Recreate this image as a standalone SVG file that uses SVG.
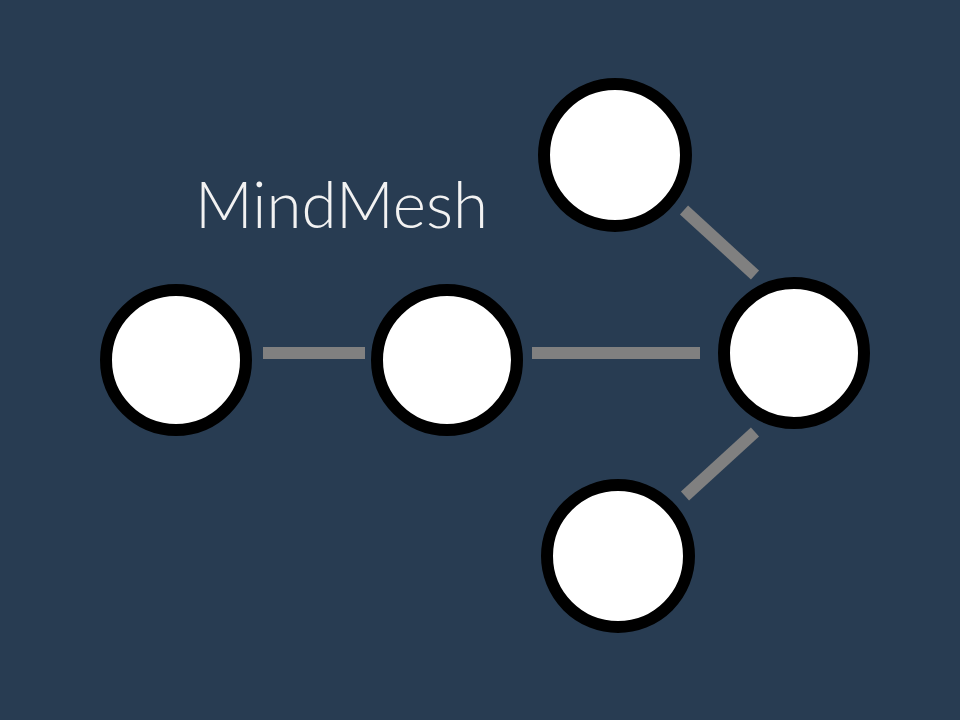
<svg xmlns="http://www.w3.org/2000/svg" width="960" height="720" viewBox="0 0 960 720">
<style>
.node{fill:#ffffff;stroke:#000000;stroke-width:12}
.edge{stroke:#808080;stroke-width:12;fill:none}
.title{font-family:Lato,"Open Sans","Liberation Sans",sans-serif;font-weight:300;font-size:66px;fill:#f2f2f2}
</style>
<rect width="960" height="720" fill="#283c52"/>
<g id="connectors">
<line class="edge" x1="263" y1="353" x2="365" y2="353"/>
<line class="edge" x1="532" y1="353" x2="700" y2="353"/>
<line class="edge" x1="684" y1="210" x2="755" y2="275"/>
<line class="edge" x1="685" y1="496" x2="755" y2="432"/>
</g>
<g id="node-1"><circle class="node" cx="176" cy="360" r="70"/></g>
<g id="node-2"><circle class="node" cx="447" cy="360" r="70"/></g>
<g id="node-hub"><circle class="node" cx="794" cy="353" r="70"/></g>
<g id="node-top"><circle class="node" cx="615" cy="155" r="71"/></g>
<g id="node-bottom"><circle class="node" cx="618" cy="556" r="71"/></g>
<g id="title"><text class="title" x="195" y="228" textLength="293" lengthAdjust="spacingAndGlyphs">MindMesh</text></g>
</svg>
